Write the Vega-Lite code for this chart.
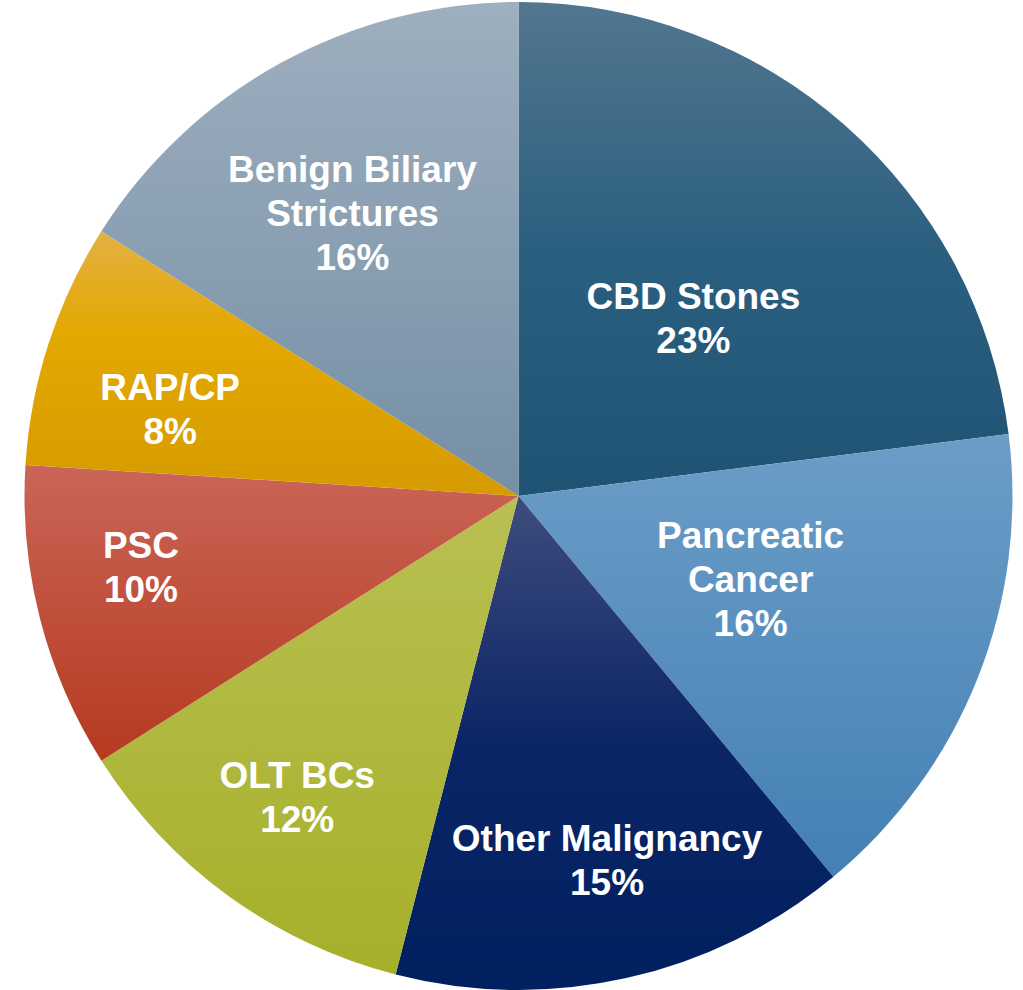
{
  "$schema": "https://vega.github.io/schema/vega-lite/v6.json",
  "autosize": {"type": "fit", "contains": "padding"},
  "width": 1023,
  "height": 990,
  "padding": {"left": 14, "top": 2, "right": 0, "bottom": 0},
  "background": "white",
  "view": {"stroke": null},
  "data": {
    "values": [
      {"i": 1, "cat": "CBD Stones", "value": 23, "label": "CBD Stones\n23%"},
      {"i": 2, "cat": "Pancreatic Cancer", "value": 16, "label": "Pancreatic\nCancer\n16%"},
      {"i": 3, "cat": "Other Malignancy", "value": 15, "label": "Other Malignancy\n15%"},
      {"i": 4, "cat": "OLT BCs", "value": 12, "label": "OLT BCs\n12%"},
      {"i": 5, "cat": "PSC", "value": 10, "label": "PSC\n10%"},
      {"i": 6, "cat": "RAP/CP", "value": 8, "label": "RAP/CP\n8%"},
      {"i": 7, "cat": "Benign Biliary Strictures", "value": 16, "label": "Benign Biliary\nStrictures\n16%"}
    ]
  },
  "encoding": {
    "theta": {"field": "value", "type": "quantitative", "stack": true},
    "order": {"field": "i", "type": "quantitative", "sort": "ascending"}
  },
  "layer": [
    {
      "mark": {"type": "arc", "outerRadius": 494, "stroke": null},
      "encoding": {
        "color": {
          "condition": [
            {"test": "datum.cat === 'CBD Stones'", "value": {"gradient": "linear", "x1": 0, "y1": 0, "x2": 0, "y2": 1, "stops": [{"offset": 0, "color": "#52768f"}, {"offset": 0.5, "color": "#2b5f80"}, {"offset": 1, "color": "#1f5373"}]}},
            {"test": "datum.cat === 'Pancreatic Cancer'", "value": {"gradient": "linear", "x1": 0, "y1": 0, "x2": 0, "y2": 1, "stops": [{"offset": 0, "color": "#6c9dc7"}, {"offset": 1, "color": "#4480b5"}]}},
            {"test": "datum.cat === 'Other Malignancy'", "value": {"gradient": "linear", "x1": 0, "y1": 0, "x2": 0, "y2": 1, "stops": [{"offset": 0, "color": "#3f4c7d"}, {"offset": 0.5, "color": "#0b2566"}, {"offset": 1, "color": "#002060"}]}},
            {"test": "datum.cat === 'OLT BCs'", "value": {"gradient": "linear", "x1": 0, "y1": 0, "x2": 0, "y2": 1, "stops": [{"offset": 0, "color": "#b9c052"}, {"offset": 1, "color": "#a6b02a"}]}},
            {"test": "datum.cat === 'PSC'", "value": {"gradient": "linear", "x1": 0, "y1": 0, "x2": 0, "y2": 1, "stops": [{"offset": 0, "color": "#ca6557"}, {"offset": 1, "color": "#b53a20"}]}},
            {"test": "datum.cat === 'RAP/CP'", "value": {"gradient": "linear", "x1": 0, "y1": 0, "x2": 0, "y2": 1, "stops": [{"offset": 0, "color": "#e4b142"}, {"offset": 0.4, "color": "#e3a800"}, {"offset": 1, "color": "#d59b00"}]}},
            {"test": "datum.cat === 'Benign Biliary Strictures'", "value": {"gradient": "linear", "x1": 0, "y1": 0, "x2": 0, "y2": 1, "stops": [{"offset": 0, "color": "#9eafbf"}, {"offset": 1, "color": "#758fa5"}]}}
          ],
          "value": "#888888"
        }
      }
    },
    {
      "mark": {"type": "text", "radius": 250, "thetaOffset": 0.052, "dy": -19, "font": "Liberation Sans", "fontWeight": "bold", "fontSize": 37, "lineHeight": 44, "lineBreak": "\n", "align": "center", "baseline": "middle", "color": "white"},
      "encoding": {"text": {"condition": {"test": "datum.cat === 'CBD Stones'", "field": "label"}, "value": ""}}
    },
    {
      "mark": {"type": "text", "radius": 247, "thetaOffset": -0.028, "dy": -43, "font": "Liberation Sans", "fontWeight": "bold", "fontSize": 37, "lineHeight": 44, "lineBreak": "\n", "align": "center", "baseline": "middle", "color": "white"},
      "encoding": {"text": {"condition": {"test": "datum.cat === 'Pancreatic Cancer'", "field": "label"}, "value": ""}}
    },
    {
      "mark": {"type": "text", "radius": 374, "thetaOffset": -0.019, "dy": -19, "font": "Liberation Sans", "fontWeight": "bold", "fontSize": 37, "lineHeight": 44, "lineBreak": "\n", "align": "center", "baseline": "middle", "color": "white"},
      "encoding": {"text": {"condition": {"test": "datum.cat === 'Other Malignancy'", "field": "label"}, "value": ""}}
    },
    {
      "mark": {"type": "text", "radius": 374, "thetaOffset": 0.005, "dy": -20, "font": "Liberation Sans", "fontWeight": "bold", "fontSize": 37, "lineHeight": 44, "lineBreak": "\n", "align": "center", "baseline": "middle", "color": "white"},
      "encoding": {"text": {"condition": {"test": "datum.cat === 'OLT BCs'", "field": "label"}, "value": ""}}
    },
    {
      "mark": {"type": "text", "radius": 384, "thetaOffset": 0.068, "dy": -19, "font": "Liberation Sans", "fontWeight": "bold", "fontSize": 37, "lineHeight": 44, "lineBreak": "\n", "align": "center", "baseline": "middle", "color": "white"},
      "encoding": {"text": {"condition": {"test": "datum.cat === 'PSC'", "field": "label"}, "value": ""}}
    },
    {
      "mark": {"type": "text", "radius": 359, "thetaOffset": -0.07, "dy": -20, "font": "Liberation Sans", "fontWeight": "bold", "fontSize": 37, "lineHeight": 44, "lineBreak": "\n", "align": "center", "baseline": "middle", "color": "white"},
      "encoding": {"text": {"condition": {"test": "datum.cat === 'RAP/CP'", "field": "label"}, "value": ""}}
    },
    {
      "mark": {"type": "text", "radius": 328, "thetaOffset": -0.028, "dy": -42, "font": "Liberation Sans", "fontWeight": "bold", "fontSize": 37, "lineHeight": 44, "lineBreak": "\n", "align": "center", "baseline": "middle", "color": "white"},
      "encoding": {"text": {"condition": {"test": "datum.cat === 'Benign Biliary Strictures'", "field": "label"}, "value": ""}}
    }
  ]
}
